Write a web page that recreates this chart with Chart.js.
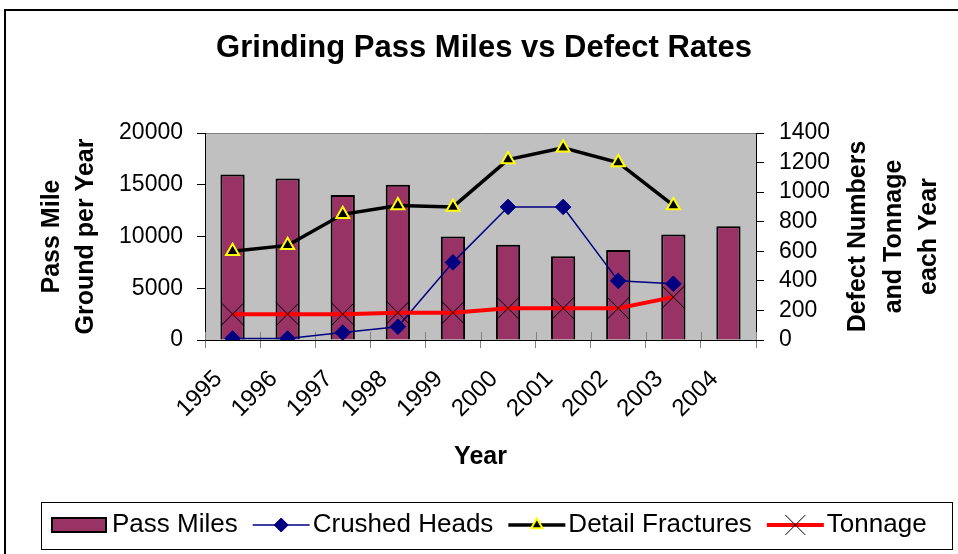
<!DOCTYPE html>
<html>
<head>
<meta charset="utf-8">
<script src="https://cdn.jsdelivr.net/npm/chart.js@4/dist/chart.umd.min.js"></script>
<style>
html,body{margin:0;padding:0;background:#fff;}
#wrap{width:958px;height:554px;position:relative;}
</style>
</head>
<body>
<div id="wrap"><canvas id="c" width="958" height="554"></canvas></div>
<script>
const categories = ['1995','1996','1997','1998','1999','2000','2001','2002','2003','2004'];
const passMiles = [16000,15600,14000,15000,10000,9200,8100,8700,10200,11000];
const crushedHeads = [10,10,50,90,525,900,900,400,380,null];
const detailFractures = [600,640,850,910,900,1220,1300,1200,910,null];
const tonnage = [175,175,175,185,185,215,215,215,290,null];
const leftTicks = [0,5000,10000,15000,20000];
const rightTicks = [0,200,400,600,800,1000,1200,1400];
const titleText = 'Grinding Pass Miles vs Defect Rates';
const leftTitle = ['Pass Mile','Ground per Year'];
const rightTitle = ['Defect Numbers','and Tonnage','each Year'];
const xTitle = 'Year';

const FONT = "'Liberation Sans', Arial, sans-serif";

const framePlugin = {
  id: 'frame',
  beforeDraw(chart) {
    const {ctx, chartArea: a} = chart;
    ctx.save();
    ctx.fillStyle = '#ffffff';
    ctx.fillRect(0, 0, chart.width, chart.height);
    ctx.fillStyle = '#C0C0C0';
    ctx.fillRect(a.left, a.top, a.right - a.left, a.bottom - a.top);
    ctx.strokeStyle = '#808080';
    ctx.lineWidth = 1;
    ctx.beginPath();
    ctx.moveTo(a.left, a.top + 0.5);
    ctx.lineTo(a.right, a.top + 0.5);
    ctx.stroke();
    ctx.restore();
  },
  beforeDatasetsDraw(chart) {
    const {ctx, chartArea: a, scales} = chart;
    const xs = scales.x;
    ctx.save();
    ctx.strokeStyle = '#808080';
    ctx.lineWidth = 1;
    for (let i = 0; i <= categories.length; i++) {
      const px = Math.round(xs.getPixelForValue(i - 0.5)) + 0.5;
      ctx.beginPath();
      ctx.moveTo(px, a.bottom - 8);
      ctx.lineTo(px, a.bottom);
      ctx.stroke();
    }
    ctx.restore();
  },
  afterDraw(chart) {
    const {ctx, chartArea: a} = chart;
    ctx.save();
    ctx.strokeStyle = '#000';
    ctx.lineWidth = 2;
    ctx.strokeRect(5, 10, 1000, 1000);

    ctx.fillStyle = '#000';
    ctx.font = "bold 25px " + FONT;
    ctx.textAlign = 'center';
    ctx.textBaseline = 'middle';
    const cy = (a.top + a.bottom) / 2;
    const rx = [858, 894, 929];
    rightTitle.forEach((t, i) => {
      ctx.save();
      ctx.translate(rx[i], cy);
      ctx.rotate(-Math.PI / 2);
      ctx.fillText(t, 0, 0);
      ctx.restore();
    });

    ctx.lineWidth = 1;
    ctx.strokeStyle = '#000';
    ctx.strokeRect(41.5, 502.5, 911, 47);
    ctx.font = "26px " + FONT;
    ctx.textAlign = 'left';
    ctx.textBaseline = 'middle';
    const ly = 525;
    let x = 51;
    chart.data.datasets.forEach((ds) => {
      if (ds.type === 'bar') {
        ctx.fillStyle = ds.backgroundColor;
        ctx.fillRect(x, ly - 8, 56, 16);
        ctx.lineWidth = 2;
        ctx.strokeStyle = '#000';
        ctx.strokeRect(x + 1, ly - 7, 54, 14);
        x += 56 + 5;
      } else {
        x += 15;
        ctx.strokeStyle = ds.borderColor;
        ctx.lineWidth = ds.borderWidth;
        ctx.beginPath();
        ctx.moveTo(x, ly);
        ctx.lineTo(x + 57, ly);
        ctx.stroke();
        const r = ds.pointStyle === 'crossRot' ? 14 : (ds.pointStyle === 'triangle' ? 6.5 : 7);
        ctx.fillStyle = ds.pointBackgroundColor;
        ctx.strokeStyle = ds.pointBorderColor;
        ctx.lineWidth = ds.pointBorderWidth;
        Chart.helpers.drawPoint(ctx, {pointStyle: ds.pointStyle, radius: r, borderWidth: ds.pointBorderWidth, rotation: 0}, x + 28.5, ly);
        x += 57 + 3;
      }
      ctx.fillStyle = '#000';
      ctx.fillText(ds.label, x, ly);
      x += ctx.measureText(ds.label).width;
    });
    ctx.restore();
  }
};

new Chart(document.getElementById('c'), {
  data: {
    labels: categories,
    datasets: [
      {
        type: 'bar', label: 'Pass Miles', data: passMiles, yAxisID: 'y',
        backgroundColor: '#993366', borderColor: '#000000', borderWidth: 2,
        barPercentage: 0.44, categoryPercentage: 1, order: 10
      },
      {
        type: 'line', label: 'Crushed Heads', data: crushedHeads, yAxisID: 'y1',
        borderColor: '#000080', borderWidth: 1.5, pointStyle: 'rectRot', pointRadius: 7.8,
        pointBackgroundColor: '#000080', pointBorderColor: '#000080', pointBorderWidth: 1,
        tension: 0, order: 2
      },
      {
        type: 'line', label: 'Detail Fractures', data: detailFractures, yAxisID: 'y1',
        borderColor: '#000000', borderWidth: 3.5, pointStyle: 'triangle', pointRadius: 7.5,
        pointBackgroundColor: '#000000', pointBorderColor: '#FFFF00', pointBorderWidth: 2,
        tension: 0, order: 3
      },
      {
        type: 'line', label: 'Tonnage', data: tonnage, yAxisID: 'y1',
        borderColor: '#FF0000', borderWidth: 4, pointStyle: 'crossRot', pointRadius: 16,
        pointBackgroundColor: '#000000', pointBorderColor: '#000000', pointBorderWidth: 1,
        tension: 0, order: 1
      }
    ]
  },
  options: {
    responsive: false,
    animation: false,
    devicePixelRatio: 1,
    events: [],
    layout: { padding: { top: 10, left: 10, right: 0, bottom: 54 } },
    plugins: {
      legend: { display: false },
      tooltip: { enabled: false },
      title: {
        display: true, text: titleText, color: '#000',
        font: { family: FONT, size: 31, weight: 'bold', lineHeight: 1.2 },
        padding: { top: 20, bottom: 65.8 }
      }
    },
    scales: {
      x: {
        type: 'category', offset: true,
        grid: { offset: true, drawOnChartArea: false, tickLength: 8, color: '#808080', lineWidth: 1 },
        border: { color: '#000', width: 1 },
        ticks: {
          maxRotation: 45, minRotation: 45, autoSkip: false, color: '#000',
          font: { family: FONT, size: 24 }, padding: 17, labelOffset: -14
        },
        title: {
          display: true, text: xTitle, color: '#000',
          font: { family: FONT, size: 25, weight: 'bold', lineHeight: 1.2 },
          padding: { top: 0, bottom: 28 }
        },
        afterFit: s => { s.height = 160; }
      },
      y: {
        position: 'left', min: 0, max: 20000,
        afterBuildTicks: s => { s.ticks = leftTicks.map(v => ({ value: v })); },
        grid: { drawOnChartArea: false, tickLength: 8, color: '#000' },
        border: { color: '#000', width: 1 },
        ticks: { color: '#000', autoSkip: false, font: { family: FONT, size: 23 }, padding: 14,
                 callback: v => String(v) },
        title: {
          display: true, text: leftTitle, color: '#000',
          font: { family: FONT, size: 25, weight: 'bold', lineHeight: 1.36 },
          padding: { top: 25, bottom: 0 }
        },
        afterFit: s => { s.width = 195; }
      },
      y1: {
        position: 'right', min: 0, max: 1400,
        afterBuildTicks: s => { s.ticks = rightTicks.map(v => ({ value: v })); },
        grid: { drawOnChartArea: false, tickLength: 8, color: '#000' },
        border: { color: '#000', width: 1 },
        ticks: { color: '#000', autoSkip: false, font: { family: FONT, size: 23 }, padding: 15,
                 callback: v => String(v) },
        afterFit: s => { s.width = 202; }
      }
    }
  },
  plugins: [framePlugin]
});
</script>
</body>
</html>
